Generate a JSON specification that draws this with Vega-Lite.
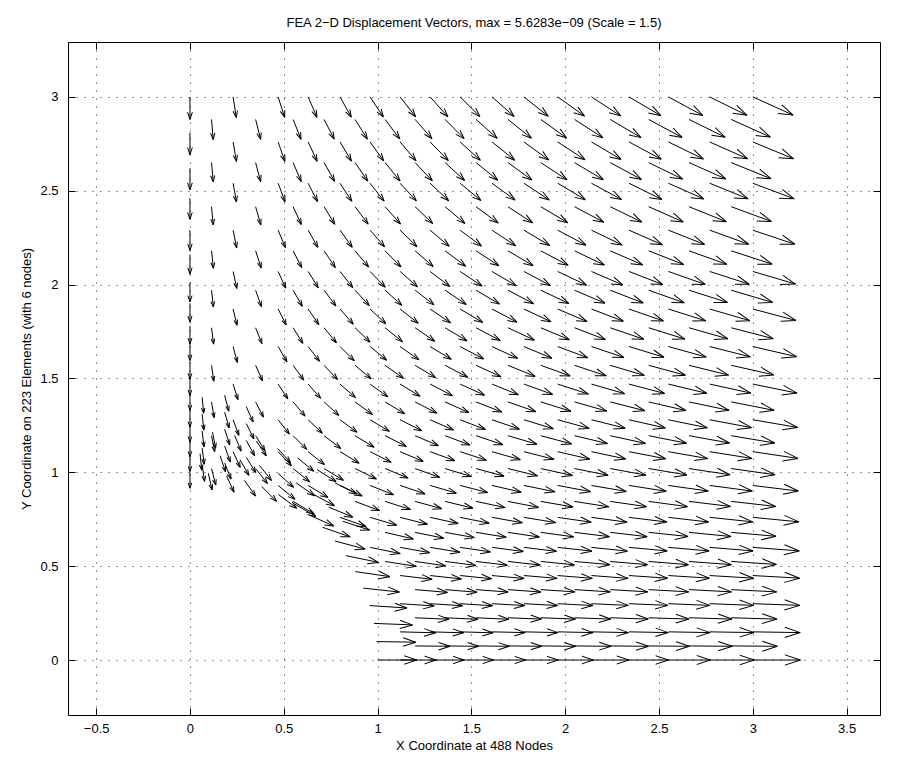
{
"$schema": "https://vega.github.io/schema/vega-lite/v6.json",
"width": 812, "height": 673,
"autosize": {"type": "none"},
"padding": {"left": 68, "top": 42, "right": 27, "bottom": 52},
"background": "white",
"config": {
 "view": {"stroke": "black", "strokeWidth": 1},
 "font": "Liberation Sans",
 "axis": {"labelFont": "Liberation Sans", "titleFont": "Liberation Sans", "labelFontSize": 13, "titleFontSize": 13, "titleFontWeight": "normal", "labelColor": "#000", "titleColor": "#000", "tickColor": "#000", "domain": false, "gridColor": "#000", "gridOpacity": 0.85, "gridDash": [1, 7], "gridWidth": 1}
},
"title": {"text": "FEA 2−D Displacement Vectors, max = 5.6283e−09 (Scale = 1.5)", "font": "Liberation Sans", "fontSize": 13, "fontWeight": "normal", "color": "#000", "offset": 12, "anchor": "middle"},
"data": {"values": [
{"x":0,"y":3,"xe":0,"ye":2.88},{"x":0,"y":2.81,"xe":0,"ye":2.692},{"x":0,"y":2.62,"xe":0,"ye":2.505},{"x":0,"y":2.46,"xe":0,"ye":2.348},{"x":0,"y":2.29,"xe":0,"ye":2.182},{"x":0,"y":2.16,"xe":0,"ye":2.055},{"x":0,"y":2.01,"xe":0,"ye":1.908},{"x":0,"y":1.9,"xe":0,"ye":1.8},{"x":0,"y":1.78,"xe":0,"ye":1.683},{"x":0,"y":1.69,"xe":0,"ye":1.595},{"x":0,"y":1.59,"xe":0,"ye":1.497},{"x":0,"y":1.5,"xe":0,"ye":1.409},{"x":0,"y":1.42,"xe":0,"ye":1.33},{"x":0,"y":1.33,"xe":0,"ye":1.241},{"x":0,"y":1.25,"xe":0,"ye":1.162},{"x":0,"y":1.17,"xe":0,"ye":1.083},{"x":0,"y":1.09,"xe":0,"ye":1.004},{"x":0,"y":1.0,"xe":0,"ye":0.915},
{"x":1.12,"y":0,"xe":1.313,"ye":0},{"x":1.28,"y":0,"xe":1.462,"ye":0},{"x":1.44,"y":0,"xe":1.618,"ye":0},{"x":1.61,"y":0,"xe":1.789,"ye":0},{"x":1.78,"y":0,"xe":1.963,"ye":0},{"x":1.96,"y":0,"xe":2.151,"ye":0},{"x":2.14,"y":0,"xe":2.34,"ye":0},{"x":2.34,"y":0,"xe":2.551,"ye":0},{"x":2.55,"y":0,"xe":2.774,"ye":0},{"x":2.77,"y":0,"xe":3.008,"ye":0},{"x":3,"y":0,"xe":3.254,"ye":0},
{"x":1.12,"y":0.15,"xe":1.31,"ye":0.145},{"x":1.28,"y":0.15,"xe":1.459,"ye":0.145},{"x":1.44,"y":0.15,"xe":1.616,"ye":0.145},{"x":1.61,"y":0.15,"xe":1.787,"ye":0.146},{"x":1.78,"y":0.15,"xe":1.962,"ye":0.146},{"x":1.96,"y":0.15,"xe":2.149,"ye":0.146},{"x":2.14,"y":0.15,"xe":2.338,"ye":0.146},{"x":2.34,"y":0.15,"xe":2.55,"ye":0.146},{"x":2.55,"y":0.15,"xe":2.773,"ye":0.146},{"x":2.77,"y":0.15,"xe":3.007,"ye":0.146},{"x":3,"y":0.15,"xe":3.253,"ye":0.146},
{"x":1.12,"y":0.3,"xe":1.302,"ye":0.288},{"x":1.28,"y":0.3,"xe":1.454,"ye":0.289},{"x":1.44,"y":0.3,"xe":1.613,"ye":0.289},{"x":1.61,"y":0.3,"xe":1.785,"ye":0.29},{"x":1.78,"y":0.3,"xe":1.96,"ye":0.29},{"x":1.96,"y":0.3,"xe":2.148,"ye":0.29},{"x":2.14,"y":0.3,"xe":2.337,"ye":0.291},{"x":2.34,"y":0.3,"xe":2.548,"ye":0.291},{"x":2.55,"y":0.3,"xe":2.771,"ye":0.291},{"x":2.77,"y":0.3,"xe":3.006,"ye":0.291},{"x":3,"y":0.3,"xe":3.251,"ye":0.291},
{"x":1.12,"y":0.45,"xe":1.291,"ye":0.43},{"x":1.28,"y":0.45,"xe":1.447,"ye":0.432},{"x":1.44,"y":0.45,"xe":1.608,"ye":0.433},{"x":1.61,"y":0.45,"xe":1.781,"ye":0.434},{"x":1.78,"y":0.45,"xe":1.957,"ye":0.435},{"x":1.96,"y":0.45,"xe":2.145,"ye":0.435},{"x":2.14,"y":0.45,"xe":2.335,"ye":0.435},{"x":2.34,"y":0.45,"xe":2.546,"ye":0.436},{"x":2.55,"y":0.45,"xe":2.769,"ye":0.436},{"x":2.77,"y":0.45,"xe":3.004,"ye":0.436},{"x":3,"y":0.45,"xe":3.25,"ye":0.436},
{"x":0.96,"y":0.6,"xe":1.121,"ye":0.567},{"x":1.12,"y":0.6,"xe":1.278,"ye":0.572},{"x":1.28,"y":0.6,"xe":1.439,"ye":0.574},{"x":1.44,"y":0.6,"xe":1.602,"ye":0.576},{"x":1.61,"y":0.6,"xe":1.777,"ye":0.578},{"x":1.78,"y":0.6,"xe":1.954,"ye":0.579},{"x":1.96,"y":0.6,"xe":2.143,"ye":0.58},{"x":2.14,"y":0.6,"xe":2.332,"ye":0.58},{"x":2.34,"y":0.6,"xe":2.544,"ye":0.581},{"x":2.55,"y":0.6,"xe":2.767,"ye":0.581},{"x":2.77,"y":0.6,"xe":3.002,"ye":0.581},{"x":3,"y":0.6,"xe":3.248,"ye":0.581},
{"x":0.8,"y":0.76,"xe":0.939,"ye":0.711},{"x":0.96,"y":0.76,"xe":1.102,"ye":0.718},{"x":1.12,"y":0.76,"xe":1.266,"ye":0.723},{"x":1.28,"y":0.76,"xe":1.43,"ye":0.727},{"x":1.44,"y":0.76,"xe":1.595,"ye":0.729},{"x":1.61,"y":0.76,"xe":1.772,"ye":0.731},{"x":1.78,"y":0.76,"xe":1.95,"ye":0.732},{"x":1.96,"y":0.76,"xe":2.139,"ye":0.734},{"x":2.14,"y":0.76,"xe":2.33,"ye":0.734},{"x":2.34,"y":0.76,"xe":2.542,"ye":0.735},{"x":2.55,"y":0.76,"xe":2.765,"ye":0.735},{"x":2.77,"y":0.76,"xe":3.0,"ye":0.736},{"x":3,"y":0.76,"xe":3.246,"ye":0.736},
{"x":0.47,"y":0.93,"xe":0.56,"ye":0.856},{"x":0.63,"y":0.93,"xe":0.736,"ye":0.866},{"x":0.8,"y":0.93,"xe":0.918,"ye":0.874},{"x":0.96,"y":0.93,"xe":1.086,"ye":0.88},{"x":1.12,"y":0.93,"xe":1.253,"ye":0.885},{"x":1.28,"y":0.93,"xe":1.42,"ye":0.889},{"x":1.44,"y":0.93,"xe":1.588,"ye":0.892},{"x":1.61,"y":0.93,"xe":1.766,"ye":0.894},{"x":1.78,"y":0.93,"xe":1.946,"ye":0.896},{"x":1.96,"y":0.93,"xe":2.136,"ye":0.897},{"x":2.14,"y":0.93,"xe":2.326,"ye":0.898},{"x":2.34,"y":0.93,"xe":2.539,"ye":0.899},{"x":2.55,"y":0.93,"xe":2.763,"ye":0.9},{"x":2.77,"y":0.93,"xe":2.997,"ye":0.9},{"x":3,"y":0.93,"xe":3.243,"ye":0.9},
{"x":0.23,"y":1.11,"xe":0.268,"ye":1.026},{"x":0.47,"y":1.11,"xe":0.541,"ye":1.035},{"x":0.63,"y":1.11,"xe":0.717,"ye":1.041},{"x":0.8,"y":1.11,"xe":0.902,"ye":1.048},{"x":0.96,"y":1.11,"xe":1.073,"ye":1.053},{"x":1.12,"y":1.11,"xe":1.243,"ye":1.058},{"x":1.28,"y":1.11,"xe":1.412,"ye":1.062},{"x":1.44,"y":1.11,"xe":1.581,"ye":1.064},{"x":1.61,"y":1.11,"xe":1.761,"ye":1.067},{"x":1.78,"y":1.11,"xe":1.941,"ye":1.069},{"x":1.96,"y":1.11,"xe":2.132,"ye":1.07},{"x":2.14,"y":1.11,"xe":2.323,"ye":1.071},{"x":2.34,"y":1.11,"xe":2.536,"ye":1.072},{"x":2.55,"y":1.11,"xe":2.76,"ye":1.073},{"x":2.77,"y":1.11,"xe":2.995,"ye":1.074},{"x":3,"y":1.11,"xe":3.241,"ye":1.074},
{"x":0.23,"y":1.28,"xe":0.261,"ye":1.197},{"x":0.47,"y":1.28,"xe":0.53,"ye":1.203},{"x":0.63,"y":1.28,"xe":0.706,"ye":1.208},{"x":0.8,"y":1.28,"xe":0.891,"ye":1.213},{"x":0.96,"y":1.28,"xe":1.063,"ye":1.218},{"x":1.12,"y":1.28,"xe":1.235,"ye":1.222},{"x":1.28,"y":1.28,"xe":1.405,"ye":1.225},{"x":1.44,"y":1.28,"xe":1.575,"ye":1.228},{"x":1.61,"y":1.28,"xe":1.756,"ye":1.23},{"x":1.78,"y":1.28,"xe":1.937,"ye":1.232},{"x":1.96,"y":1.28,"xe":2.128,"ye":1.234},{"x":2.14,"y":1.28,"xe":2.32,"ye":1.235},{"x":2.34,"y":1.28,"xe":2.534,"ye":1.236},{"x":2.55,"y":1.28,"xe":2.758,"ye":1.237},{"x":2.77,"y":1.28,"xe":2.993,"ye":1.238},{"x":3,"y":1.28,"xe":3.239,"ye":1.239},
{"x":0.23,"y":1.47,"xe":0.256,"ye":1.387},{"x":0.47,"y":1.47,"xe":0.522,"ye":1.391},{"x":0.63,"y":1.47,"xe":0.697,"ye":1.394},{"x":0.8,"y":1.47,"xe":0.882,"ye":1.398},{"x":0.96,"y":1.47,"xe":1.055,"ye":1.402},{"x":1.12,"y":1.47,"xe":1.227,"ye":1.405},{"x":1.28,"y":1.47,"xe":1.399,"ye":1.408},{"x":1.44,"y":1.47,"xe":1.57,"ye":1.411},{"x":1.61,"y":1.47,"xe":1.751,"ye":1.413},{"x":1.78,"y":1.47,"xe":1.933,"ye":1.415},{"x":1.96,"y":1.47,"xe":2.124,"ye":1.417},{"x":2.14,"y":1.47,"xe":2.317,"ye":1.419},{"x":2.34,"y":1.47,"xe":2.53,"ye":1.42},{"x":2.55,"y":1.47,"xe":2.755,"ye":1.421},{"x":2.77,"y":1.47,"xe":2.99,"ye":1.422},{"x":3,"y":1.47,"xe":3.236,"ye":1.422},
{"x":0.23,"y":1.67,"xe":0.253,"ye":1.585},{"x":0.47,"y":1.67,"xe":0.517,"ye":1.588},{"x":0.63,"y":1.67,"xe":0.691,"ye":1.591},{"x":0.8,"y":1.67,"xe":0.876,"ye":1.594},{"x":0.96,"y":1.67,"xe":1.049,"ye":1.597},{"x":1.12,"y":1.67,"xe":1.221,"ye":1.599},{"x":1.28,"y":1.67,"xe":1.393,"ye":1.602},{"x":1.44,"y":1.67,"xe":1.565,"ye":1.604},{"x":1.61,"y":1.67,"xe":1.747,"ye":1.607},{"x":1.78,"y":1.67,"xe":1.929,"ye":1.608},{"x":1.96,"y":1.67,"xe":2.121,"ye":1.61},{"x":2.14,"y":1.67,"xe":2.313,"ye":1.612},{"x":2.34,"y":1.67,"xe":2.527,"ye":1.613},{"x":2.55,"y":1.67,"xe":2.752,"ye":1.614},{"x":2.77,"y":1.67,"xe":2.987,"ye":1.615},{"x":3,"y":1.67,"xe":3.233,"ye":1.616},
{"x":0.23,"y":1.87,"xe":0.251,"ye":1.783},{"x":0.47,"y":1.87,"xe":0.513,"ye":1.785},{"x":0.63,"y":1.87,"xe":0.687,"ye":1.787},{"x":0.8,"y":1.87,"xe":0.871,"ye":1.789},{"x":0.96,"y":1.87,"xe":1.044,"ye":1.791},{"x":1.12,"y":1.87,"xe":1.217,"ye":1.794},{"x":1.28,"y":1.87,"xe":1.389,"ye":1.796},{"x":1.44,"y":1.87,"xe":1.561,"ye":1.798},{"x":1.61,"y":1.87,"xe":1.743,"ye":1.8},{"x":1.78,"y":1.87,"xe":1.925,"ye":1.802},{"x":1.96,"y":1.87,"xe":2.117,"ye":1.803},{"x":2.14,"y":1.87,"xe":2.31,"ye":1.805},{"x":2.34,"y":1.87,"xe":2.524,"ye":1.806},{"x":2.55,"y":1.87,"xe":2.749,"ye":1.807},{"x":2.77,"y":1.87,"xe":2.984,"ye":1.808},{"x":3,"y":1.87,"xe":3.23,"ye":1.809},
{"x":0.23,"y":2.07,"xe":0.25,"ye":1.979},{"x":0.47,"y":2.07,"xe":0.511,"ye":1.981},{"x":0.63,"y":2.07,"xe":0.684,"ye":1.983},{"x":0.8,"y":2.07,"xe":0.868,"ye":1.984},{"x":0.96,"y":2.07,"xe":1.041,"ye":1.986},{"x":1.12,"y":2.07,"xe":1.213,"ye":1.988},{"x":1.28,"y":2.07,"xe":1.385,"ye":1.99},{"x":1.44,"y":2.07,"xe":1.557,"ye":1.992},{"x":1.61,"y":2.07,"xe":1.739,"ye":1.994},{"x":1.78,"y":2.07,"xe":1.922,"ye":1.995},{"x":1.96,"y":2.07,"xe":2.114,"ye":1.997},{"x":2.14,"y":2.07,"xe":2.307,"ye":1.998},{"x":2.34,"y":2.07,"xe":2.521,"ye":2.0},{"x":2.55,"y":2.07,"xe":2.746,"ye":2.001},{"x":2.77,"y":2.07,"xe":2.981,"ye":2.002},{"x":3,"y":2.07,"xe":3.228,"ye":2.003},
{"x":0.23,"y":2.29,"xe":0.249,"ye":2.195},{"x":0.47,"y":2.29,"xe":0.509,"ye":2.197},{"x":0.63,"y":2.29,"xe":0.682,"ye":2.198},{"x":0.8,"y":2.29,"xe":0.865,"ye":2.199},{"x":0.96,"y":2.29,"xe":1.038,"ye":2.201},{"x":1.12,"y":2.29,"xe":1.21,"ye":2.202},{"x":1.28,"y":2.29,"xe":1.382,"ye":2.204},{"x":1.44,"y":2.29,"xe":1.554,"ye":2.205},{"x":1.61,"y":2.29,"xe":1.736,"ye":2.207},{"x":1.78,"y":2.29,"xe":1.918,"ye":2.208},{"x":1.96,"y":2.29,"xe":2.111,"ye":2.21},{"x":2.14,"y":2.29,"xe":2.304,"ye":2.211},{"x":2.34,"y":2.29,"xe":2.518,"ye":2.212},{"x":2.55,"y":2.29,"xe":2.743,"ye":2.214},{"x":2.77,"y":2.29,"xe":2.978,"ye":2.215},{"x":3,"y":2.29,"xe":3.224,"ye":2.215},
{"x":0.23,"y":2.54,"xe":0.248,"ye":2.44},{"x":0.47,"y":2.54,"xe":0.507,"ye":2.441},{"x":0.63,"y":2.54,"xe":0.68,"ye":2.442},{"x":0.8,"y":2.54,"xe":0.863,"ye":2.443},{"x":0.96,"y":2.54,"xe":1.035,"ye":2.445},{"x":1.12,"y":2.54,"xe":1.207,"ye":2.446},{"x":1.28,"y":2.54,"xe":1.379,"ye":2.447},{"x":1.44,"y":2.54,"xe":1.551,"ye":2.448},{"x":1.61,"y":2.54,"xe":1.733,"ye":2.45},{"x":1.78,"y":2.54,"xe":1.915,"ye":2.451},{"x":1.96,"y":2.54,"xe":2.108,"ye":2.452},{"x":2.14,"y":2.54,"xe":2.301,"ye":2.453},{"x":2.34,"y":2.54,"xe":2.515,"ye":2.454},{"x":2.55,"y":2.54,"xe":2.74,"ye":2.456},{"x":2.77,"y":2.54,"xe":2.975,"ye":2.457},{"x":3,"y":2.54,"xe":3.221,"ye":2.457},
{"x":0.23,"y":2.76,"xe":0.248,"ye":2.656},{"x":0.47,"y":2.76,"xe":0.506,"ye":2.656},{"x":0.63,"y":2.76,"xe":0.678,"ye":2.657},{"x":0.8,"y":2.76,"xe":0.861,"ye":2.658},{"x":0.96,"y":2.76,"xe":1.033,"ye":2.659},{"x":1.12,"y":2.76,"xe":1.205,"ye":2.66},{"x":1.28,"y":2.76,"xe":1.377,"ye":2.661},{"x":1.44,"y":2.76,"xe":1.548,"ye":2.662},{"x":1.61,"y":2.76,"xe":1.731,"ye":2.663},{"x":1.78,"y":2.76,"xe":1.913,"ye":2.664},{"x":1.96,"y":2.76,"xe":2.106,"ye":2.665},{"x":2.14,"y":2.76,"xe":2.298,"ye":2.667},{"x":2.34,"y":2.76,"xe":2.512,"ye":2.668},{"x":2.55,"y":2.76,"xe":2.737,"ye":2.669},{"x":2.77,"y":2.76,"xe":2.973,"ye":2.67},{"x":3,"y":2.76,"xe":3.218,"ye":2.67},
{"x":0.23,"y":3,"xe":0.247,"ye":2.89},{"x":0.47,"y":3,"xe":0.505,"ye":2.891},{"x":0.63,"y":3,"xe":0.677,"ye":2.891},{"x":0.8,"y":3,"xe":0.86,"ye":2.892},{"x":0.96,"y":3,"xe":1.031,"ye":2.893},{"x":1.12,"y":3,"xe":1.203,"ye":2.894},{"x":1.28,"y":3,"xe":1.375,"ye":2.894},{"x":1.44,"y":3,"xe":1.546,"ye":2.895},{"x":1.61,"y":3,"xe":1.728,"ye":2.896},{"x":1.78,"y":3,"xe":1.91,"ye":2.897},{"x":1.96,"y":3,"xe":2.103,"ye":2.898},{"x":2.14,"y":3,"xe":2.296,"ye":2.899},{"x":2.34,"y":3,"xe":2.51,"ye":2.9},{"x":2.55,"y":3,"xe":2.734,"ye":2.901},{"x":2.77,"y":3,"xe":2.969,"ye":2.902},{"x":3,"y":3,"xe":3.215,"ye":2.903},
{"x":1.2,"y":0.075,"xe":1.386,"ye":0.073},{"x":1.36,"y":0.075,"xe":1.538,"ye":0.073},{"x":1.525,"y":0.075,"xe":1.702,"ye":0.073},{"x":1.695,"y":0.075,"xe":1.875,"ye":0.073},{"x":1.87,"y":0.075,"xe":2.056,"ye":0.073},{"x":2.05,"y":0.075,"xe":2.245,"ye":0.073},{"x":2.24,"y":0.075,"xe":2.445,"ye":0.073},{"x":2.445,"y":0.075,"xe":2.662,"ye":0.073},{"x":2.66,"y":0.075,"xe":2.891,"ye":0.073},{"x":2.885,"y":0.075,"xe":3.131,"ye":0.073},
{"x":1.2,"y":0.225,"xe":1.381,"ye":0.217},{"x":1.36,"y":0.225,"xe":1.535,"ye":0.217},{"x":1.525,"y":0.225,"xe":1.7,"ye":0.217},{"x":1.695,"y":0.225,"xe":1.874,"ye":0.218},{"x":1.87,"y":0.225,"xe":2.055,"ye":0.218},{"x":2.05,"y":0.225,"xe":2.243,"ye":0.218},{"x":2.24,"y":0.225,"xe":2.443,"ye":0.218},{"x":2.445,"y":0.225,"xe":2.66,"ye":0.218},{"x":2.66,"y":0.225,"xe":2.889,"ye":0.218},{"x":2.885,"y":0.225,"xe":3.129,"ye":0.218},
{"x":1.2,"y":0.375,"xe":1.373,"ye":0.36},{"x":1.36,"y":0.375,"xe":1.53,"ye":0.361},{"x":1.525,"y":0.375,"xe":1.696,"ye":0.362},{"x":1.695,"y":0.375,"xe":1.871,"ye":0.362},{"x":1.87,"y":0.375,"xe":2.053,"ye":0.363},{"x":2.05,"y":0.375,"xe":2.241,"ye":0.363},{"x":2.24,"y":0.375,"xe":2.441,"ye":0.363},{"x":2.445,"y":0.375,"xe":2.659,"ye":0.363},{"x":2.66,"y":0.375,"xe":2.887,"ye":0.363},{"x":2.885,"y":0.375,"xe":3.128,"ye":0.363},
{"x":1.04,"y":0.525,"xe":1.207,"ye":0.499},{"x":1.2,"y":0.525,"xe":1.363,"ye":0.502},{"x":1.36,"y":0.525,"xe":1.524,"ye":0.504},{"x":1.525,"y":0.525,"xe":1.692,"ye":0.505},{"x":1.695,"y":0.525,"xe":1.867,"ye":0.506},{"x":1.87,"y":0.525,"xe":2.05,"ye":0.507},{"x":2.05,"y":0.525,"xe":2.239,"ye":0.508},{"x":2.24,"y":0.525,"xe":2.439,"ye":0.508},{"x":2.445,"y":0.525,"xe":2.657,"ye":0.508},{"x":2.66,"y":0.525,"xe":2.886,"ye":0.508},{"x":2.885,"y":0.525,"xe":3.126,"ye":0.509},
{"x":1.04,"y":0.68,"xe":1.191,"ye":0.645},{"x":1.2,"y":0.68,"xe":1.353,"ye":0.649},{"x":1.36,"y":0.68,"xe":1.516,"ye":0.652},{"x":1.525,"y":0.68,"xe":1.686,"ye":0.654},{"x":1.695,"y":0.68,"xe":1.863,"ye":0.655},{"x":1.87,"y":0.68,"xe":2.046,"ye":0.656},{"x":2.05,"y":0.68,"xe":2.236,"ye":0.657},{"x":2.24,"y":0.68,"xe":2.437,"ye":0.657},{"x":2.445,"y":0.68,"xe":2.655,"ye":0.658},{"x":2.66,"y":0.68,"xe":2.884,"ye":0.658},{"x":2.885,"y":0.68,"xe":3.124,"ye":0.659},
{"x":0.55,"y":0.845,"xe":0.662,"ye":0.778},{"x":0.88,"y":0.845,"xe":1.011,"ye":0.796},{"x":1.04,"y":0.845,"xe":1.176,"ye":0.802},{"x":1.2,"y":0.845,"xe":1.342,"ye":0.806},{"x":1.36,"y":0.845,"xe":1.508,"ye":0.809},{"x":1.525,"y":0.845,"xe":1.68,"ye":0.812},{"x":1.695,"y":0.845,"xe":1.858,"ye":0.813},{"x":1.87,"y":0.845,"xe":2.042,"ye":0.815},{"x":2.05,"y":0.845,"xe":2.233,"ye":0.816},{"x":2.24,"y":0.845,"xe":2.434,"ye":0.817},{"x":2.445,"y":0.845,"xe":2.652,"ye":0.817},{"x":2.66,"y":0.845,"xe":2.881,"ye":0.818},{"x":2.885,"y":0.845,"xe":3.122,"ye":0.818},
{"x":0.115,"y":1.02,"xe":0.138,"ye":0.932},{"x":0.35,"y":1.02,"xe":0.413,"ye":0.94},{"x":0.55,"y":1.02,"xe":0.638,"ye":0.949},{"x":0.715,"y":1.02,"xe":0.818,"ye":0.957},{"x":0.88,"y":1.02,"xe":0.994,"ye":0.964},{"x":1.04,"y":1.02,"xe":1.163,"ye":0.969},{"x":1.2,"y":1.02,"xe":1.332,"ye":0.973},{"x":1.36,"y":1.02,"xe":1.5,"ye":0.977},{"x":1.525,"y":1.02,"xe":1.674,"ye":0.979},{"x":1.695,"y":1.02,"xe":1.853,"ye":0.981},{"x":1.87,"y":1.02,"xe":2.039,"ye":0.983},{"x":2.05,"y":1.02,"xe":2.229,"ye":0.984},{"x":2.24,"y":1.02,"xe":2.431,"ye":0.985},{"x":2.445,"y":1.02,"xe":2.649,"ye":0.986},{"x":2.66,"y":1.02,"xe":2.879,"ye":0.987},{"x":2.885,"y":1.02,"xe":3.119,"ye":0.987},
{"x":0.115,"y":1.195,"xe":0.132,"ye":1.11},{"x":0.35,"y":1.195,"xe":0.4,"ye":1.115},{"x":0.55,"y":1.195,"xe":0.623,"ye":1.122},{"x":0.715,"y":1.195,"xe":0.804,"ye":1.127},{"x":0.88,"y":1.195,"xe":0.982,"ye":1.133},{"x":1.04,"y":1.195,"xe":1.153,"ye":1.138},{"x":1.2,"y":1.195,"xe":1.324,"ye":1.142},{"x":1.36,"y":1.195,"xe":1.493,"ye":1.145},{"x":1.525,"y":1.195,"xe":1.668,"ye":1.147},{"x":1.695,"y":1.195,"xe":1.849,"ye":1.15},{"x":1.87,"y":1.195,"xe":2.035,"ye":1.151},{"x":2.05,"y":1.195,"xe":2.226,"ye":1.153},{"x":2.24,"y":1.195,"xe":2.428,"ye":1.154},{"x":2.445,"y":1.195,"xe":2.647,"ye":1.155},{"x":2.66,"y":1.195,"xe":2.876,"ye":1.156},{"x":2.885,"y":1.195,"xe":3.117,"ye":1.156},
{"x":0.115,"y":1.375,"xe":0.129,"ye":1.291},{"x":0.35,"y":1.375,"xe":0.392,"ye":1.294},{"x":0.55,"y":1.375,"xe":0.614,"ye":1.299},{"x":0.715,"y":1.375,"xe":0.794,"ye":1.303},{"x":0.88,"y":1.375,"xe":0.973,"ye":1.308},{"x":1.04,"y":1.375,"xe":1.145,"ye":1.312},{"x":1.2,"y":1.375,"xe":1.316,"ye":1.315},{"x":1.36,"y":1.375,"xe":1.487,"ye":1.318},{"x":1.525,"y":1.375,"xe":1.663,"ye":1.321},{"x":1.695,"y":1.375,"xe":1.844,"ye":1.323},{"x":1.87,"y":1.375,"xe":2.031,"ye":1.325},{"x":2.05,"y":1.375,"xe":2.222,"ye":1.326},{"x":2.24,"y":1.375,"xe":2.425,"ye":1.328},{"x":2.445,"y":1.375,"xe":2.644,"ye":1.329},{"x":2.66,"y":1.375,"xe":2.874,"ye":1.33},{"x":2.885,"y":1.375,"xe":3.114,"ye":1.33},
{"x":0.115,"y":1.57,"xe":0.127,"ye":1.485},{"x":0.35,"y":1.57,"xe":0.387,"ye":1.487},{"x":0.55,"y":1.57,"xe":0.607,"ye":1.491},{"x":0.715,"y":1.57,"xe":0.787,"ye":1.494},{"x":0.88,"y":1.57,"xe":0.966,"ye":1.498},{"x":1.04,"y":1.57,"xe":1.138,"ye":1.501},{"x":1.2,"y":1.57,"xe":1.31,"ye":1.504},{"x":1.36,"y":1.57,"xe":1.481,"ye":1.506},{"x":1.525,"y":1.57,"xe":1.658,"ye":1.509},{"x":1.695,"y":1.57,"xe":1.84,"ye":1.511},{"x":1.87,"y":1.57,"xe":2.027,"ye":1.513},{"x":2.05,"y":1.57,"xe":2.219,"ye":1.514},{"x":2.24,"y":1.57,"xe":2.422,"ye":1.516},{"x":2.445,"y":1.57,"xe":2.641,"ye":1.517},{"x":2.66,"y":1.57,"xe":2.871,"ye":1.518},{"x":2.885,"y":1.57,"xe":3.112,"ye":1.519},
{"x":0.115,"y":1.77,"xe":0.126,"ye":1.683},{"x":0.35,"y":1.77,"xe":0.384,"ye":1.685},{"x":0.55,"y":1.77,"xe":0.602,"ye":1.687},{"x":0.715,"y":1.77,"xe":0.781,"ye":1.69},{"x":0.88,"y":1.77,"xe":0.96,"ye":1.693},{"x":1.04,"y":1.77,"xe":1.133,"ye":1.695},{"x":1.2,"y":1.77,"xe":1.305,"ye":1.698},{"x":1.36,"y":1.77,"xe":1.477,"ye":1.7},{"x":1.525,"y":1.77,"xe":1.654,"ye":1.702},{"x":1.695,"y":1.77,"xe":1.836,"ye":1.704},{"x":1.87,"y":1.77,"xe":2.023,"ye":1.706},{"x":2.05,"y":1.77,"xe":2.215,"ye":1.707},{"x":2.24,"y":1.77,"xe":2.419,"ye":1.709},{"x":2.445,"y":1.77,"xe":2.638,"ye":1.71},{"x":2.66,"y":1.77,"xe":2.868,"ye":1.711},{"x":2.885,"y":1.77,"xe":3.109,"ye":1.712},
{"x":0.115,"y":1.97,"xe":0.125,"ye":1.881},{"x":0.35,"y":1.97,"xe":0.381,"ye":1.882},{"x":0.55,"y":1.97,"xe":0.599,"ye":1.884},{"x":0.715,"y":1.97,"xe":0.778,"ye":1.886},{"x":0.88,"y":1.97,"xe":0.956,"ye":1.888},{"x":1.04,"y":1.97,"xe":1.129,"ye":1.89},{"x":1.2,"y":1.97,"xe":1.301,"ye":1.892},{"x":1.36,"y":1.97,"xe":1.473,"ye":1.894},{"x":1.525,"y":1.97,"xe":1.65,"ye":1.896},{"x":1.695,"y":1.97,"xe":1.832,"ye":1.898},{"x":1.87,"y":1.97,"xe":2.02,"ye":1.899},{"x":2.05,"y":1.97,"xe":2.212,"ye":1.901},{"x":2.24,"y":1.97,"xe":2.416,"ye":1.902},{"x":2.445,"y":1.97,"xe":2.635,"ye":1.903},{"x":2.66,"y":1.97,"xe":2.865,"ye":1.905},{"x":2.885,"y":1.97,"xe":3.106,"ye":1.905},
{"x":0.115,"y":2.18,"xe":0.125,"ye":2.087},{"x":0.35,"y":2.18,"xe":0.38,"ye":2.088},{"x":0.55,"y":2.18,"xe":0.596,"ye":2.09},{"x":0.715,"y":2.18,"xe":0.775,"ye":2.091},{"x":0.88,"y":2.18,"xe":0.953,"ye":2.093},{"x":1.04,"y":2.18,"xe":1.125,"ye":2.094},{"x":1.2,"y":2.18,"xe":1.297,"ye":2.096},{"x":1.36,"y":2.18,"xe":1.47,"ye":2.098},{"x":1.525,"y":2.18,"xe":1.647,"ye":2.1},{"x":1.695,"y":2.18,"xe":1.829,"ye":2.101},{"x":1.87,"y":2.18,"xe":2.016,"ye":2.103},{"x":2.05,"y":2.18,"xe":2.209,"ye":2.104},{"x":2.24,"y":2.18,"xe":2.413,"ye":2.105},{"x":2.445,"y":2.18,"xe":2.632,"ye":2.107},{"x":2.66,"y":2.18,"xe":2.862,"ye":2.108},{"x":2.885,"y":2.18,"xe":3.103,"ye":2.109},
{"x":0.115,"y":2.415,"xe":0.124,"ye":2.318},{"x":0.35,"y":2.415,"xe":0.378,"ye":2.318},{"x":0.55,"y":2.415,"xe":0.594,"ye":2.32},{"x":0.715,"y":2.415,"xe":0.772,"ye":2.321},{"x":0.88,"y":2.415,"xe":0.95,"ye":2.322},{"x":1.04,"y":2.415,"xe":1.122,"ye":2.323},{"x":1.2,"y":2.415,"xe":1.294,"ye":2.325},{"x":1.36,"y":2.415,"xe":1.466,"ye":2.326},{"x":1.525,"y":2.415,"xe":1.643,"ye":2.328},{"x":1.695,"y":2.415,"xe":1.826,"ye":2.329},{"x":1.87,"y":2.415,"xe":2.013,"ye":2.33},{"x":2.05,"y":2.415,"xe":2.206,"ye":2.332},{"x":2.24,"y":2.415,"xe":2.409,"ye":2.333},{"x":2.445,"y":2.415,"xe":2.629,"ye":2.334},{"x":2.66,"y":2.415,"xe":2.859,"ye":2.335},{"x":2.885,"y":2.415,"xe":3.1,"ye":2.336},
{"x":0.115,"y":2.65,"xe":0.124,"ye":2.548},{"x":0.35,"y":2.65,"xe":0.377,"ye":2.548},{"x":0.55,"y":2.65,"xe":0.593,"ye":2.549},{"x":0.715,"y":2.65,"xe":0.771,"ye":2.55},{"x":0.88,"y":2.65,"xe":0.948,"ye":2.551},{"x":1.04,"y":2.65,"xe":1.12,"ye":2.552},{"x":1.2,"y":2.65,"xe":1.292,"ye":2.553},{"x":1.36,"y":2.65,"xe":1.464,"ye":2.555},{"x":1.525,"y":2.65,"xe":1.641,"ye":2.556},{"x":1.695,"y":2.65,"xe":1.823,"ye":2.557},{"x":1.87,"y":2.65,"xe":2.01,"ye":2.558},{"x":2.05,"y":2.65,"xe":2.203,"ye":2.559},{"x":2.24,"y":2.65,"xe":2.407,"ye":2.56},{"x":2.445,"y":2.65,"xe":2.626,"ye":2.562},{"x":2.66,"y":2.65,"xe":2.856,"ye":2.563},{"x":2.885,"y":2.65,"xe":3.097,"ye":2.564},
{"x":0.115,"y":2.88,"xe":0.124,"ye":2.773},{"x":0.35,"y":2.88,"xe":0.377,"ye":2.773},{"x":0.55,"y":2.88,"xe":0.592,"ye":2.774},{"x":0.715,"y":2.88,"xe":0.769,"ye":2.775},{"x":0.88,"y":2.88,"xe":0.946,"ye":2.775},{"x":1.04,"y":2.88,"xe":1.118,"ye":2.776},{"x":1.2,"y":2.88,"xe":1.29,"ye":2.777},{"x":1.36,"y":2.88,"xe":1.461,"ye":2.778},{"x":1.525,"y":2.88,"xe":1.638,"ye":2.779},{"x":1.695,"y":2.88,"xe":1.82,"ye":2.78},{"x":1.87,"y":2.88,"xe":2.008,"ye":2.781},{"x":2.05,"y":2.88,"xe":2.201,"ye":2.782},{"x":2.24,"y":2.88,"xe":2.404,"ye":2.783},{"x":2.445,"y":2.88,"xe":2.623,"ye":2.784},{"x":2.66,"y":2.88,"xe":2.853,"ye":2.785},{"x":2.885,"y":2.88,"xe":3.094,"ye":2.786},
{"x":1,"y":0,"xe":1.21,"ye":0},{"x":0.995,"y":0.098,"xe":1.204,"ye":0.095},{"x":0.981,"y":0.195,"xe":1.186,"ye":0.187},{"x":0.957,"y":0.29,"xe":1.157,"ye":0.277},{"x":0.924,"y":0.383,"xe":1.117,"ye":0.362},{"x":0.882,"y":0.471,"xe":1.066,"ye":0.444},{"x":0.832,"y":0.556,"xe":1.005,"ye":0.52},{"x":0.773,"y":0.634,"xe":0.934,"ye":0.591},{"x":0.707,"y":0.707,"xe":0.854,"ye":0.656},{"x":0.634,"y":0.773,"xe":0.766,"ye":0.714},{"x":0.556,"y":0.832,"xe":0.671,"ye":0.765},{"x":0.471,"y":0.882,"xe":0.569,"ye":0.809},{"x":0.383,"y":0.924,"xe":0.462,"ye":0.845},{"x":0.29,"y":0.957,"xe":0.35,"ye":0.873},{"x":0.195,"y":0.981,"xe":0.235,"ye":0.894},{"x":0.098,"y":0.995,"xe":0.118,"ye":0.906},
{"x":0.815,"y":0.739,"xe":0.958,"ye":0.692},{"x":0.739,"y":0.815,"xe":0.868,"ye":0.761},{"x":0.655,"y":0.884,"xe":0.77,"ye":0.822},{"x":0.566,"y":0.944,"xe":0.664,"ye":0.875},{"x":0.47,"y":0.994,"xe":0.552,"ye":0.92},{"x":0.371,"y":1.036,"xe":0.435,"ye":0.956},{"x":0.267,"y":1.067,"xe":0.314,"ye":0.984},{"x":0.161,"y":1.088,"xe":0.19,"ye":1.002},{"x":0.054,"y":1.099,"xe":0.063,"ye":1.011},
{"x":0.774,"y":0.943,"xe":0.889,"ye":0.885},{"x":0.678,"y":1.014,"xe":0.779,"ye":0.95},{"x":0.575,"y":1.076,"xe":0.66,"ye":1.005},{"x":0.467,"y":1.127,"xe":0.536,"ye":1.052},{"x":0.354,"y":1.167,"xe":0.407,"ye":1.087},{"x":0.238,"y":1.197,"xe":0.273,"ye":1.113},{"x":0.12,"y":1.214,"xe":0.137,"ye":1.129},
{"x":0.065,"y":1.04,"xe":0.078,"ye":0.951},{"x":0.065,"y":1.13,"xe":0.076,"ye":1.043},{"x":0.065,"y":1.22,"xe":0.075,"ye":1.135},{"x":0.065,"y":1.31,"xe":0.074,"ye":1.225},{"x":0.065,"y":1.4,"xe":0.073,"ye":1.315},
{"x":0.185,"y":1.05,"xe":0.219,"ye":0.964},{"x":0.185,"y":1.14,"xe":0.215,"ye":1.055},{"x":0.185,"y":1.23,"xe":0.212,"ye":1.146},{"x":0.185,"y":1.32,"xe":0.209,"ye":1.236},{"x":0.185,"y":1.41,"xe":0.207,"ye":1.326},
{"x":0.3,"y":1.08,"xe":0.351,"ye":0.998},{"x":0.3,"y":1.17,"xe":0.345,"ye":1.088},{"x":0.3,"y":1.26,"xe":0.341,"ye":1.178},{"x":0.3,"y":1.35,"xe":0.337,"ye":1.268}
]},
"layer": [
 {"mark": {"type": "rule", "color": "#000", "strokeWidth": 1},
  "encoding": {
   "x": {"field": "x", "type": "quantitative", "scale": {"domain": [-0.65, 3.678], "nice": false, "zero": false},
         "axis": {"orient": "bottom", "values": [-0.5, 0, 0.5, 1, 1.5, 2, 2.5, 3, 3.5], "format": ".1~f", "title": "X Coordinate at 488 Nodes", "grid": true, "tickSize": -7, "labelPadding": 14, "titlePadding": 4}},
   "y": {"field": "y", "type": "quantitative", "scale": {"domain": [-0.293, 3.2925], "nice": false, "zero": false},
         "axis": {"orient": "left", "values": [0, 0.5, 1, 1.5, 2, 2.5, 3], "format": ".1~f", "title": "Y Coordinate on 223 Elements (with 6 nodes)", "grid": true, "tickSize": -7, "labelPadding": 17, "titlePadding": 6}},
   "x2": {"field": "xe"}, "y2": {"field": "ye"}}},
 {"mark": {"type": "point", "shape": "M0,0L-1,-0.33M0,0L-1,0.33", "filled": false, "stroke": "#000", "strokeWidth": 1, "opacity": 1,
           "angle": {"expr": "(atan2(datum.y - datum.ye, datum.xe - datum.x) * 180 / PI + 360) % 360"},
           "size": {"expr": "15000 * (pow(datum.xe - datum.x, 2) + pow(datum.ye - datum.y, 2))"}},
  "encoding": {
   "x": {"field": "xe", "type": "quantitative", "axis": {"orient": "top", "values": [-0.5, 0, 0.5, 1, 1.5, 2, 2.5, 3, 3.5], "labels": false, "title": null, "grid": false, "tickSize": -7}},
   "y": {"field": "ye", "type": "quantitative", "axis": {"orient": "right", "values": [0, 0.5, 1, 1.5, 2, 2.5, 3], "labels": false, "title": null, "grid": false, "tickSize": -7}}}}
]
}
